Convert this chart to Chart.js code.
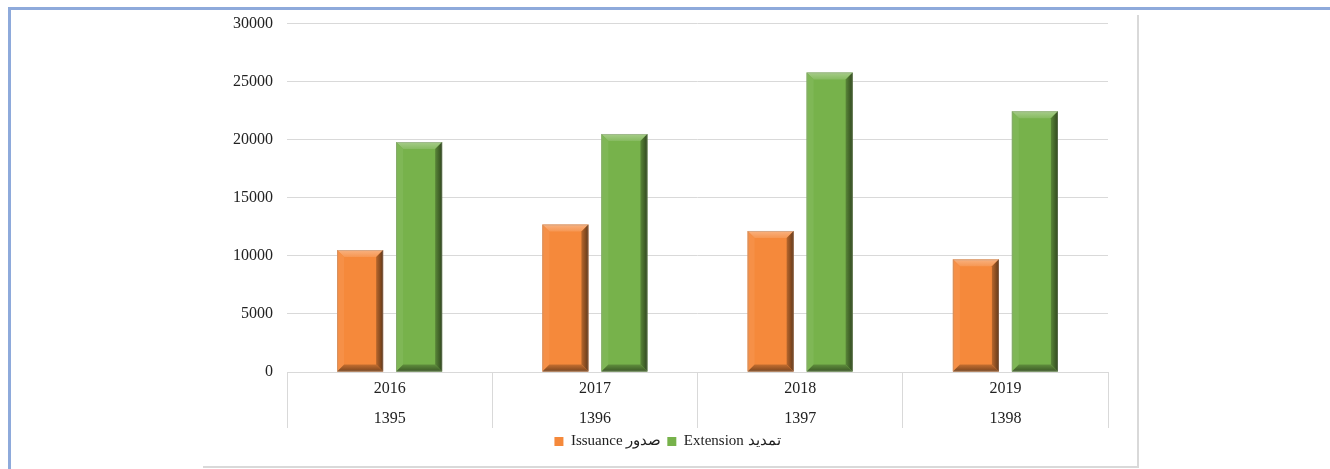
<!DOCTYPE html>
<html>
<head>
<meta charset="utf-8">
<script src="https://cdn.jsdelivr.net/npm/chart.js@4.4.1/dist/chart.umd.min.js"></script>
<style>
  html, body { margin: 0; padding: 0; background: #fff; }
  body { width: 1330px; height: 469px; position: relative; overflow: hidden; }
  #frame { position: absolute; left: 8px; top: 7px; width: 1340px; height: 480px;
           border-left: 3px solid #8EAADB; border-top: 3px solid #8EAADB; }
  #box { position: absolute; left: 203px; top: 15px; width: 934px; height: 451px;
         border-right: 2px solid #D9D9D9; border-bottom: 2px solid #D9D9D9; }
  #wrap { position: absolute; left: 0; top: 0; width: 1330px; height: 469px; }
</style>
</head>
<body>
<div id="frame"></div>
<div id="box"></div>
<div id="wrap"><canvas id="c"></canvas></div>
<script>
const years = ['2016', '2017', '2018', '2019'];
const persianYears = ['1395', '1396', '1397', '1398'];
const issuance = [10500, 12700, 12150, 9700];
const extension = [19800, 20500, 25800, 22450];
const seriesNames = ['Issuance صدور', 'Extension تمدید'];
const yTicks = [0, 5000, 10000, 15000, 20000, 25000, 30000];

const FONT = "'Liberation Serif', 'Times New Roman', serif";

function shade(hex, amt) {
  const n = parseInt(hex.slice(1), 16);
  let r = (n >> 16) & 255, g = (n >> 8) & 255, b = n & 255;
  const f = (c) => amt >= 0 ? Math.round(c + (255 - c) * amt) : Math.round(c * (1 + amt));
  return `rgb(${f(r)},${f(g)},${f(b)})`;
}

const bevelPlugin = {
  id: 'bevel',
  afterDatasetsDraw(chart) {
    const ctx = chart.ctx;
    chart.data.datasets.forEach((ds, di) => {
      const meta = chart.getDatasetMeta(di);
      if (meta.hidden) return;
      const base = ds.backgroundColor;
      meta.data.forEach((bar) => {
        const p = bar.getProps(['x', 'y', 'base', 'width'], true);
        const l = p.x - p.width / 2, r = p.x + p.width / 2;
        const t = Math.min(p.y, p.base), btm = Math.max(p.y, p.base);
        const b = Math.min(7, (btm - t) / 2);
        ctx.save();
        // top bevel
        const gt = ctx.createLinearGradient(0, t, 0, t + b);
        gt.addColorStop(0, shade(base, 0.35));
        gt.addColorStop(1, shade(base, 0.12));
        ctx.fillStyle = gt;
        ctx.beginPath();
        ctx.moveTo(l, t); ctx.lineTo(r, t); ctx.lineTo(r - b, t + b); ctx.lineTo(l + b, t + b); ctx.closePath(); ctx.fill();
        // left bevel
        ctx.fillStyle = shade(base, 0.06);
        ctx.beginPath();
        ctx.moveTo(l, t); ctx.lineTo(l + b, t + b); ctx.lineTo(l + b, btm - b); ctx.lineTo(l, btm); ctx.closePath(); ctx.fill();
        // right bevel
        const g = ctx.createLinearGradient(r - b, 0, r, 0);
        g.addColorStop(0, shade(base, -0.25));
        g.addColorStop(1, shade(base, -0.6));
        ctx.fillStyle = g;
        ctx.beginPath();
        ctx.moveTo(r, t); ctx.lineTo(r, btm); ctx.lineTo(r - b, btm - b); ctx.lineTo(r - b, t + b); ctx.closePath(); ctx.fill();
        // bottom bevel
        const gb = ctx.createLinearGradient(0, btm - b, 0, btm);
        gb.addColorStop(0, shade(base, -0.2));
        gb.addColorStop(1, shade(base, -0.5));
        ctx.fillStyle = gb;
        ctx.beginPath();
        ctx.moveTo(l, btm); ctx.lineTo(r, btm); ctx.lineTo(r - b, btm - b); ctx.lineTo(l + b, btm - b); ctx.closePath(); ctx.fill();
        // outline
        ctx.strokeStyle = 'rgba(150,150,150,0.35)';
        ctx.lineWidth = 1;
        ctx.strokeRect(l + 0.5, t + 0.5, p.width - 1, btm - t - 1);
        ctx.restore();
      });
    });
  }
};

new Chart(document.getElementById('c'), {
  type: 'bar',
  data: {
    labels: years.map((y, i) => [y, persianYears[i]]),
    datasets: [
      { label: seriesNames[0], data: issuance, backgroundColor: '#F5893B', borderWidth: 0,
        categoryPercentage: 0.575, barPercentage: 0.78 },
      { label: seriesNames[1], data: extension, backgroundColor: '#77B24B', borderWidth: 0,
        categoryPercentage: 0.575, barPercentage: 0.78 }
    ]
  },
  options: {
    responsive: true,
    maintainAspectRatio: false,
    animation: false,
    devicePixelRatio: 1,
    layout: { padding: { left: 227, right: 222, top: 23, bottom: 10 } },
    plugins: {
      tooltip: { enabled: false },
      legend: {
        position: 'bottom',
        labels: {
          font: { family: FONT, size: 15 },
          color: '#222',
          boxWidth: 9,
          boxHeight: 9,
          padding: 6
        }
      }
    },
    scales: {
      x: {
        grid: { drawOnChartArea: false, drawTicks: true, tickLength: 56, color: '#D9D9D9', offset: true },
        border: { display: true, color: '#D9D9D9', width: 1 },
        ticks: {
          font: { family: FONT, size: 16, lineHeight: 1.875 },
          color: '#222',
          padding: -54,
          maxRotation: 0
        },
        afterFit(scale) { scale.height = 56; }
      },
      y: {
        min: 0, max: 30000,
        afterBuildTicks(scale) { scale.ticks = yTicks.map(v => ({ value: v })); },
        grid: { color: '#D9D9D9', drawTicks: false },
        border: { display: false },
        ticks: {
          font: { family: FONT, size: 16 },
          color: '#222',
          padding: 14,
          callback: (v) => String(v)
        },
        afterFit(scale) { scale.width = 60; }
      }
    }
  },
  plugins: [bevelPlugin]
});
</script>
</body>
</html>
